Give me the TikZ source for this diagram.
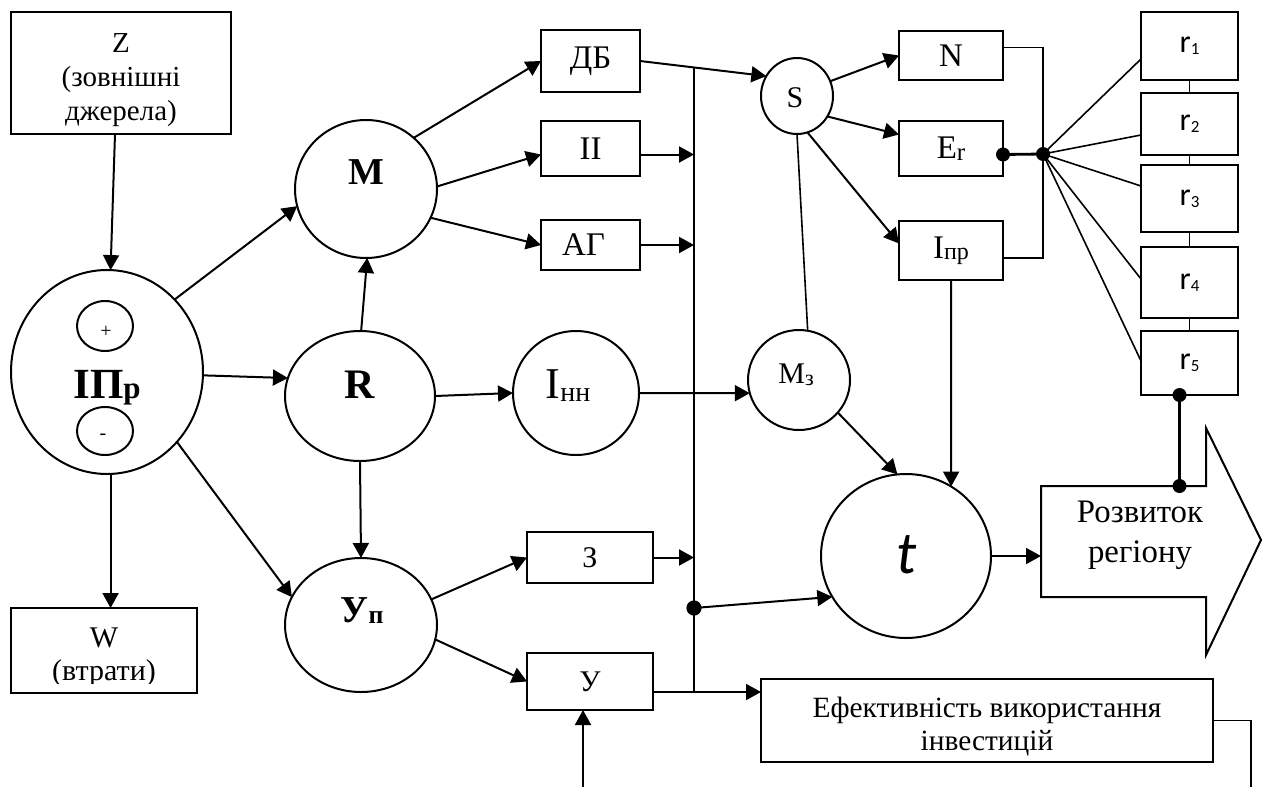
\documentclass[tikz,border=0pt]{standalone}
\usepackage{fontspec}
\setmainfont{Liberation Serif}
\newfontfamily\calfont{Carlito}
\usetikzlibrary{arrows.meta,shapes.geometric,calc}
\newcommand\myfs[2]{\fontsize{#1}{#2}\selectfont}
\begin{document}
\begin{tikzpicture}[x=0.5pt,y=-0.5pt,
  ln/.style={line width=1pt},
  thinln/.style={line width=0.8pt},
  arr/.style={line width=1pt,-{Triangle[length=7.5pt,width=8pt]}},
  box/.style={draw,line width=1pt,rectangle,inner sep=0pt,outer sep=0pt},
  ell/.style={draw,line width=1pt,ellipse,inner sep=0pt,outer sep=0pt},
  lbl/.style={anchor=base,inner sep=0pt},
  boxfont/.style={font=\myfs{16.5}{19}},
  rfont/.style={font=\calfont\myfs{16}{18}},
]
\useasboundingbox (0,0) rectangle (1267,787);

% ---------- boxes ----------
\node[box,minimum width=110pt,minimum height=61pt] (Z) at (121,73) {};
\node[align=center,inner sep=0pt,font=\myfs{14.5}{17}] (Zt) at (121,80) {Z\\(зовнішні\\джерела)};
\node[box,minimum width=93pt,minimum height=42.5pt] (W) at (104,650.5) {};
\begin{scope}
  \clip (W.north west) rectangle ($(W.south east)+(0,-10)$);
  \node[align=center,inner sep=0pt,font=\myfs{15}{16.5}] (Wt) at (104,657) {W\\(втрати)};
\end{scope}

\node[box,boxfont,minimum width=49.5pt,minimum height=31pt] (DB) at (590.5,61) {ДБ};
\node[box,boxfont,minimum width=49.5pt,minimum height=27.5pt] (II) at (590.5,148.5) {ІІ};
\node[box,boxfont,minimum width=49.5pt,minimum height=25pt] (AG) at (590.5,245) {АГ\hspace*{7pt}};
\node[box,font=\myfs{15}{18},minimum width=63pt,minimum height=25.5pt] (Z3) at (590,557.5) {З};
\node[box,font=\myfs{15}{18},minimum width=63pt,minimum height=28.5pt] (U) at (590,681.5) {У};

\node[box,boxfont,minimum width=52pt,minimum height=24.5pt] (N) at (951,55.5) {N};
\node[box,boxfont,minimum width=52pt,minimum height=27.5pt] (Er) at (951,148.5) {E{\myfs{12.5}{14}\raisebox{-1.3pt}{r}}};
\node[box,boxfont,minimum width=52pt,minimum height=29.5pt] (Ipr) at (951,250.5) {І{\myfs{12}{14}\raisebox{-0.5pt}{пр}}};

\node[box,rfont,minimum width=48.5pt,minimum height=34pt] (r1) at (1189.5,46) {r{\myfs{8.5}{10}\raisebox{-0.8pt}{1}}};
\node[box,rfont,minimum width=48.5pt,minimum height=31pt] (r2) at (1189.5,124) {r{\myfs{8.5}{10}\raisebox{-0.8pt}{2}}};
\node[box,rfont,minimum width=48.5pt,minimum height=33.5pt] (r3) at (1189.5,198.5) {r{\myfs{8.5}{10}\raisebox{-0.8pt}{3}}};
\node[box,rfont,minimum width=48.5pt,minimum height=35.5pt] (r4) at (1189.5,282.5) {r{\myfs{8.5}{10}\raisebox{-0.8pt}{4}}};
\node[box,rfont,minimum width=48.5pt,minimum height=32pt] (r5) at (1189.5,363) {r{\myfs{8.5}{10}\raisebox{-0.8pt}{5}}};

\node[box,minimum width=226pt,minimum height=41.5pt] (Eff) at (987,720.5) {};
\node[align=center,inner sep=0pt,font=\myfs{14.7}{16.5}] (Efft) at (987,727) {Ефективність використання\\інвестицій};

% ---------- ellipses ----------
\node[ell,minimum width=96pt,minimum height=102pt] (IP) at (107,372) {};
\node[ell,minimum width=28pt,minimum height=25pt] (plus) at (105,326) {};
\node[ell,minimum width=28pt,minimum height=24pt] (minus) at (105,431) {};
\node[inner sep=0pt,font=\myfs{10}{12}] (plust) at (106,332) {+};
\node[inner sep=0pt,font=\myfs{10}{12}] (minust) at (103,437) {-};
\node[lbl,font=\bfseries\myfs{21.5}{25}] (IPt) at (107,398) {ІП{\myfs{15.5}{18}р}};

\node[ell,minimum width=71pt,minimum height=69pt] (M) at (366,189) {};
\node[lbl,font=\bfseries\myfs{19}{22}] (Mt) at (366,184) {M};
\node[ell,minimum width=75pt,minimum height=65pt] (R) at (360,396) {};
\node[lbl,font=\bfseries\myfs{21}{24}] (Rt) at (360,398) {R};
\node[ell,minimum width=76pt,minimum height=67pt] (Up) at (361,625) {};
\node[lbl,font=\bfseries\myfs{19}{22}] (Upt) at (362,622) {У{\myfs{12.9}{15}\raisebox{-0.8pt}{п}}};
\node[ell,minimum width=36pt,minimum height=38pt] (S) at (797,96) {};
\node[lbl,font=\myfs{15}{17}] (St) at (795,107) {S};
\node[ell,minimum width=63pt,minimum height=62pt] (Inn) at (576,393) {};
\node[lbl,font=\myfs{22}{25}] (Innt) at (568,398) {І{\myfs{14}{16}\raisebox{-1.7pt}{нн}}};
\node[ell,minimum width=51pt,minimum height=50pt] (Mz) at (799,380) {};
\node[lbl,font=\myfs{15}{17}] (Mzt) at (796,383) {М{\myfs{11}{13}\raisebox{-1.3pt}{з}}};
\node[ell,minimum width=85pt,minimum height=82pt] (t) at (906,556) {};
\node[lbl,font=\calfont\itshape\myfs{30}{34}] (tt) at (907,573) {t};

% ---------- development arrow ----------
\coordinate (dA) at (1041,486);
\coordinate (dB) at (1206,486);
\coordinate (dC) at (1206,428);
\coordinate (dD) at (1261,540);
\coordinate (dE) at (1206,655);
\coordinate (dF) at (1206,597);
\coordinate (dG) at (1041,597);
\draw[ln] (dA) -- (dB) -- (dC) -- (dD) -- (dE) -- (dF) -- (dG) -- cycle;
\node[align=center,inner sep=0pt,font=\myfs{16.4}{20}] (dev) at (1140,535) {Розвиток\\регіону};

% ---------- helper coordinates ----------
\coordinate (bt) at (694,67.5);
\coordinate (bd) at (694,608);
\coordinate (ue) at ($(U.east)+(0,10.5)$);
\coordinate (bb) at (bt |- ue);
\coordinate (iiE) at ($(II.east)+(0,6)$);
\coordinate (F) at (1043,154);
\coordinate (erE) at ($(Er.east)+(0,6)$);
\coordinate (nE) at ($(N.east)+(0,-8)$);
\coordinate (iE) at ($(Ipr.east)+(0,7.5)$);
\coordinate (r5d) at ($(r5.south)+(-10,0)$);
\coordinate (ubot) at (583,787);
\coordinate (effR) at (1251,720.5);
\coordinate (effEnd) at (1251,787);

% ---------- connectors ----------
\draw[arr] ($(Z.south)+(-6,0)$) -- (IP.88);
\draw[arr] (IP.272) -- (IP.272 |- W.north);
\draw[arr] (IP.47) -- (M.194);
\draw[arr] (IP.-2) -- (R.166);
\draw[arr] (IP.-45) -- (Up.158);
\draw[arr] (R.89) -- (M.271);
\draw[arr] (R.south) -- (Up.north);
\draw[arr] (R.east) -- (Inn.west);
\draw[arr] (M.47) -- (DB.west);
\draw[arr] (M.2) -- ($(II.west)+(0,6)$);
\draw[arr] (M.-24) -- (AG.west);
\draw[arr] (iiE) -- (iiE -| bt);
\draw[arr] (AG.east) -- (AG.east -| bt);
\draw[arr] (DB.east) -- (S.147);
\draw[thinln] (bt) -- (bb);
\draw[arr] (Inn.east) -- (Mz.195);
\draw[arr] (Up.20) -- (Z3.west);
\draw[arr] (Up.-11) -- (U.west);
\draw[arr] (Z3.east) -- (Z3.east -| bt);
\draw[arr] (ue) -- (ue -| Eff.west);
\draw[arr] (ubot) -- ($(U.south)+(-7,0)$);
\draw[arr] (bd) -- (t.209);
\fill (bd) circle (3.8pt);
\draw[arr] (Mz.-40) -- (t.96);
\draw[arr] (Ipr.south) -- (t.57);
\draw[arr] (t.east) -- (t.east -| dA);
\draw[arr] (S.24) -- (N.west);
\draw[arr] (S.-34) -- ($(Er.west)+(0,-14)$);
\draw[arr] (S.-74) -- ($(Ipr.west)+(0,-7)$);
\draw[thinln] (S.south) -- (Mz.80);
\draw[thinln] (nE) -- (nE -| F) -- (iE -| F) -- (iE);
\draw[line width=1.4pt] (erE) -- (F);
\fill (erE) circle (3.5pt);
\fill (F) circle (3.5pt);
\draw[thinln] (F) -- ($(r1.west)+(0,13)$);
\draw[thinln] (F) -- ($(r2.west)+(0,11)$);
\draw[thinln] (F) -- ($(r3.west)+(0,-12.5)$);
\draw[thinln] (F) -- ($(r4.west)+(0,-3.5)$);
\draw[thinln] (F) -- ($(r5.west)+(0,-2)$);
\draw[thinln] (r1.south) -- (r2.north);
\draw[thinln] (r2.south) -- (r3.north);
\draw[thinln] (r3.south) -- (r4.north);
\draw[thinln] (r4.south) -- (r5.north);
\draw[line width=1.4pt] (r5d) -- (r5d |- dA);
\fill (r5d) circle (3.5pt);
\fill (r5d |- dA) circle (3.5pt);
\draw[thinln] (Eff.east) -- (effR) -- (effEnd);
\end{tikzpicture}
\end{document}
